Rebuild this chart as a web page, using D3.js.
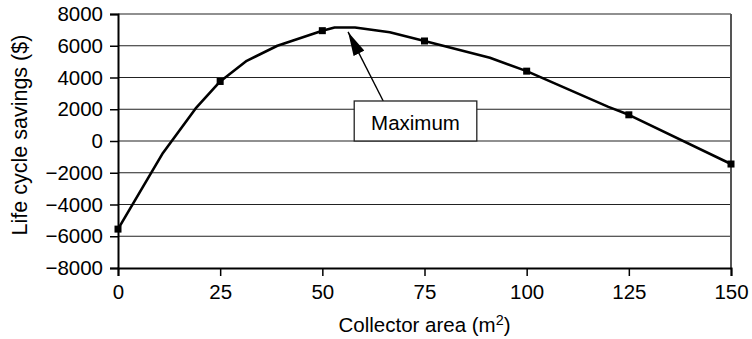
<!DOCTYPE html>
<html>
<head>
<meta charset="utf-8">
<script src="https://cdn.jsdelivr.net/npm/d3@7"></script>
<style>
  html, body { margin: 0; padding: 0; background: #fff; }
  svg { display: block; }
  text { font-family: "Liberation Sans", Arial, Helvetica, sans-serif; fill: #000; }
</style>
</head>
<body>
<svg id="chart" width="752" height="339"></svg>
<script>
// ---- data ----
const curveArea    = [0, 11, 19, 25, 31.5, 39, 50, 53, 58, 66.5, 75, 91, 100, 120, 125, 150];
const curveSavings = [-5550, -750, 2050, 3750, 5050, 6000, 6950, 7150, 7150, 6850, 6300, 5250, 4400, 2150, 1650, -1450];
const markerArea    = [0, 25, 50, 75, 100, 125, 150];
const markerSavings = [-5550, 3750, 6950, 6300, 4400, 1650, -1450];
const xTicks = [0, 25, 50, 75, 100, 125, 150];
const yTicks = [-8000, -6000, -4000, -2000, 0, 2000, 4000, 6000, 8000];
const annotationText = "Maximum";
const xTitle = "Collector area (m";
const yTitle = "Life cycle savings ($)";

// ---- layout ----
const W = 752, H = 339;
const m = { left: 118, right: 21, top: 14, bottom: 71 };
const svg = d3.select("#chart");

const x = d3.scaleLinear().domain([0, 150]).range([m.left, W - m.right]);
const y = d3.scaleLinear().domain([-8000, 8000]).range([H - m.bottom, m.top]);

const fontSize = 20.5;
const titleSize = 21.5;

// gridlines
svg.append("g").selectAll("line")
  .data(yTicks.filter(d => d !== -8000))
  .join("line")
  .attr("x1", x(0)).attr("x2", x(150))
  .attr("y1", d => y(d)).attr("y2", d => y(d))
  .attr("stroke", "#222").attr("stroke-width", 1.2);

// right border
svg.append("line")
  .attr("x1", x(150)).attr("x2", x(150))
  .attr("y1", y(8000)).attr("y2", y(-8000))
  .attr("stroke", "#555").attr("stroke-width", 2);

// y axis
const gy = svg.append("g")
  .attr("transform", `translate(${x(0)},0)`)
  .call(d3.axisLeft(y).tickValues(yTicks).tickSize(8).tickPadding(7).tickFormat(d3.format("d")));
gy.select(".domain").attr("stroke", "#000").attr("stroke-width", 2);
gy.selectAll(".tick line").attr("stroke", "#000").attr("stroke-width", 1.5);
gy.selectAll(".tick text").attr("font-size", fontSize).attr("font-family", "Liberation Sans, Arial, sans-serif");

// x axis
const gx = svg.append("g")
  .attr("transform", `translate(0,${y(-8000)})`)
  .call(d3.axisBottom(x).tickValues(xTicks).tickSize(8).tickPadding(8));
gx.select(".domain").attr("stroke", "#000").attr("stroke-width", 2);
gx.selectAll(".tick line").attr("stroke", "#000").attr("stroke-width", 1.5);
gx.selectAll(".tick text").attr("font-size", fontSize).attr("font-family", "Liberation Sans, Arial, sans-serif");

// curve
const pts = curveArea.map((a, i) => [a, curveSavings[i]]);
svg.append("path")
  .datum(pts)
  .attr("fill", "none")
  .attr("stroke", "#000")
  .attr("stroke-width", 2.6)
  .attr("stroke-linejoin", "round")
  .attr("d", d3.line().x(d => x(d[0])).y(d => y(d[1])));

// markers
const ms = 7;
svg.append("g").selectAll("rect")
  .data(markerArea.map((a, i) => [a, markerSavings[i]]))
  .join("rect")
  .attr("x", d => x(d[0]) - ms / 2)
  .attr("y", d => y(d[1]) - ms / 2)
  .attr("width", ms).attr("height", ms)
  .attr("fill", "#000");

// annotation: arrow + box
const tip = [x(56.3), y(6870)];
const boxL = x(57.8), boxR = x(87.8), boxT = y(2520), boxB = y(0);
const tail = [x(64.9), boxT];

const defs = svg.append("defs");
defs.append("marker")
  .attr("id", "arrow")
  .attr("viewBox", "0 0 24 12")
  .attr("refX", 24).attr("refY", 6)
  .attr("markerWidth", 24).attr("markerHeight", 12)
  .attr("markerUnits", "userSpaceOnUse")
  .attr("orient", "auto")
  .append("path")
  .attr("d", "M0,0 L24,6 L0,12 Z")
  .attr("fill", "#000");

svg.append("line")
  .attr("x1", tail[0]).attr("y1", tail[1])
  .attr("x2", tip[0]).attr("y2", tip[1])
  .attr("stroke", "#000").attr("stroke-width", 1.4)
  .attr("marker-end", "url(#arrow)");

svg.append("rect")
  .attr("x", boxL).attr("y", boxT)
  .attr("width", boxR - boxL).attr("height", boxB - boxT)
  .attr("fill", "#fff").attr("stroke", "#222").attr("stroke-width", 1.3);

svg.append("text")
  .attr("x", (boxL + boxR) / 2).attr("y", boxB - 11)
  .attr("text-anchor", "middle")
  .attr("font-size", fontSize)
  .text(annotationText);

// axis titles
const xt = svg.append("text")
  .attr("x", (x(0) + x(150)) / 2).attr("y", 332)
  .attr("text-anchor", "middle")
  .attr("font-size", fontSize);
xt.append("tspan").text(xTitle);
xt.append("tspan").attr("font-size", fontSize * 0.7).attr("dy", -7).text("2");
xt.append("tspan").attr("dy", 7).text(")");

svg.append("text")
  .attr("transform", `translate(27,135) rotate(-90)`)
  .attr("text-anchor", "middle")
  .attr("font-size", titleSize)
  .text(yTitle);
</script>
</body>
</html>
